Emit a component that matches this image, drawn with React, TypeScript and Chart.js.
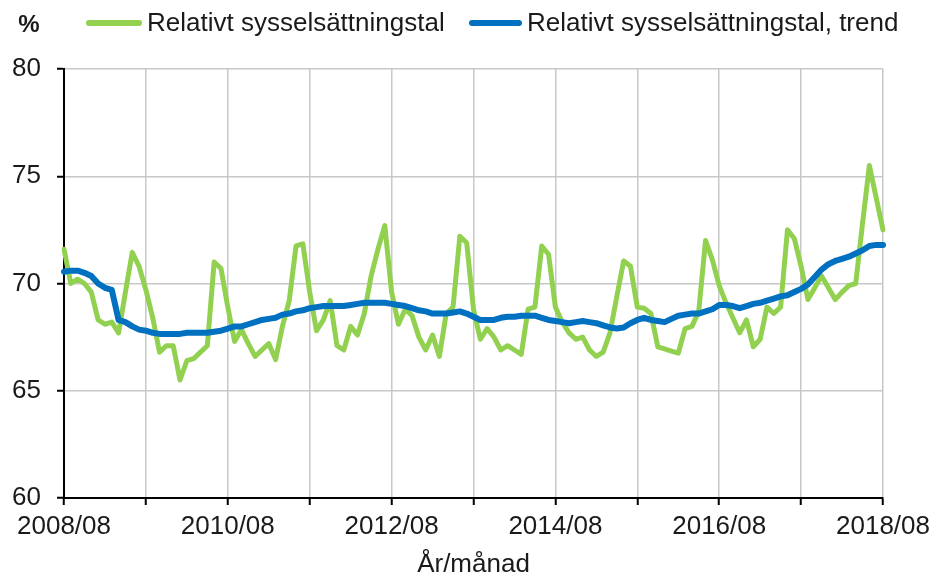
import React, { useEffect, useRef } from 'react';
import { Chart, registerables } from 'chart.js';

Chart.register(...registerables);

// ---------- data ----------
const START_YEAR = 2008;
const START_MONTH = 8;
const N_MONTHS = 121;

const months: string[] = Array.from({ length: N_MONTHS }, (_, i) => {
  const t = START_MONTH - 1 + i;
  return `${START_YEAR + Math.floor(t / 12)}/${String((t % 12) + 1).padStart(2, '0')}`;
});

const xTickLabels = ['2008/08', '2010/08', '2012/08', '2014/08', '2016/08', '2018/08'];
const xGridMonth = '/08';
const yTickValues = [60, 65, 70, 75, 80];

const seriesNames = ['Relativt sysselsättningstal', 'Relativt sysselsättningstal, trend'];

const employmentRate = [
  71.6, 70.0, 70.2, 70.0, 69.6, 68.3, 68.1, 68.2, 67.7, 69.6, 71.45, 70.8,
  69.7, 68.4, 66.8, 67.1, 67.1, 65.5, 66.4, 66.5, 66.8, 67.1, 71.0, 70.7,
  68.9, 67.3, 67.85, 67.2, 66.6, 66.9, 67.2, 66.45, 68.0, 69.2, 71.75, 71.85,
  69.6, 67.8, 68.3, 69.2, 67.1, 66.9, 68.0, 67.6, 68.6, 70.35, 71.6, 72.7,
  69.6, 68.1, 68.8, 68.5, 67.5, 66.9, 67.6, 66.6, 68.6, 68.9, 72.2, 71.9,
  68.8, 67.4, 67.9, 67.5, 66.9, 67.1, 66.9, 66.7, 68.8, 68.9, 71.75, 71.35,
  68.9, 68.2, 67.7, 67.4, 67.5, 66.9, 66.6, 66.8, 67.7, 69.4, 71.05, 70.8,
  68.9, 68.85, 68.6, 67.05, 66.95, 66.85, 66.75, 67.9, 68.0, 68.7, 72.0, 71.1,
  69.9, 69.1, 68.4, 67.7, 68.3, 67.05, 67.4, 68.9, 68.6, 68.9, 72.5, 72.1,
  70.8, 69.25, 69.8, 70.35, 69.8, 69.25, 69.6, 69.9, 70.0, 72.8, 75.5, 74.0,
  72.5,
];

const employmentTrend = [
  70.55, 70.6, 70.6, 70.5, 70.35, 70.0, 69.8, 69.7, 68.3, 68.2, 68.0, 67.85,
  67.8, 67.7, 67.65, 67.65, 67.65, 67.65, 67.7, 67.7, 67.7, 67.7, 67.75, 67.8,
  67.9, 68.0, 68.0, 68.1, 68.2, 68.3, 68.35, 68.4, 68.55, 68.6, 68.7, 68.75,
  68.85, 68.9, 68.95, 68.95, 68.95, 68.95, 69.0, 69.05, 69.1, 69.1, 69.1, 69.1,
  69.05, 69.0, 68.95, 68.85, 68.75, 68.7, 68.6, 68.6, 68.6, 68.65, 68.7, 68.6,
  68.45, 68.3, 68.3, 68.3, 68.4, 68.45, 68.45, 68.5, 68.5, 68.5, 68.4, 68.3,
  68.25, 68.2, 68.15, 68.2, 68.25, 68.2, 68.15, 68.05, 67.95, 67.9, 67.95, 68.15,
  68.3, 68.4, 68.3, 68.25, 68.2, 68.35, 68.5, 68.55, 68.6, 68.6, 68.7, 68.8,
  69.0, 69.0, 68.95, 68.85, 68.95, 69.05, 69.1, 69.2, 69.3, 69.4, 69.45, 69.6,
  69.75, 69.95, 70.3, 70.65, 70.9, 71.05, 71.15, 71.25, 71.4, 71.55, 71.75, 71.8,
  71.8,
];

// ---------- styles ----------
const GREEN = '#92D050';
const BLUE = '#0070C0';
const GRID = '#c8c8c8';
const TEXT = '#1a1a1a';
const FAMILY = '"Liberation Sans", Arial, Helvetica, sans-serif';

const headerPlugin = {
  id: 'headerLegend',
  afterDraw(chart: any) {
    const ctx = chart.ctx as CanvasRenderingContext2D;
    ctx.save();
    ctx.fillStyle = TEXT;
    ctx.font = `bold 24px ${FAMILY}`;
    ctx.textAlign = 'center';
    ctx.textBaseline = 'middle';
    ctx.fillText('%', 29, 25);

    const items = [
      { x: 86, w: 56, color: GREEN, text: seriesNames[0] },
      { x: 469, w: 53, color: BLUE, text: seriesNames[1] },
    ];
    ctx.font = `26px ${FAMILY}`;
    ctx.textAlign = 'left';
    items.forEach((it) => {
      ctx.strokeStyle = it.color;
      ctx.lineWidth = 6;
      ctx.lineCap = 'round';
      ctx.beginPath();
      ctx.moveTo(it.x + 3, 23);
      ctx.lineTo(it.x + it.w - 3, 23);
      ctx.stroke();
      ctx.fillStyle = TEXT;
      ctx.fillText(it.text, it.x + it.w + 5, 24);
    });
    ctx.restore();
  },
};

export default function App() {
  const canvasRef = useRef<HTMLCanvasElement | null>(null);

  useEffect(() => {
    if (!canvasRef.current) return;
    const isGrid = (i: number) => months[i] !== undefined && months[i].endsWith(xGridMonth);
    const chart = new Chart(canvasRef.current, {
      type: 'line',
      data: {
        labels: months,
        datasets: [
          {
            label: seriesNames[0],
            data: employmentRate,
            borderColor: GREEN,
            backgroundColor: GREEN,
            borderWidth: 5,
            order: 2,
          },
          {
            label: seriesNames[1],
            data: employmentTrend,
            borderColor: BLUE,
            backgroundColor: BLUE,
            borderWidth: 6,
            order: 1,
          },
        ],
      },
      options: {
        responsive: false,
        animation: false,
        layout: { padding: { top: 69, right: 53, bottom: 0, left: 0 } },
        plugins: { legend: { display: false }, tooltip: { enabled: false } },
        elements: {
          point: { radius: 0, hoverRadius: 0 },
          line: { tension: 0, borderJoinStyle: 'round', borderCapStyle: 'round' },
        },
        scales: {
          x: {
            type: 'category',
            offset: false,
            grid: {
              offset: false,
              color: (c: any) => (isGrid(c.index) ? GRID : 'rgba(0,0,0,0)'),
              tickColor: (c: any) => (isGrid(c.index) ? '#000' : 'rgba(0,0,0,0)'),
              lineWidth: 1.5,
              tickWidth: 2,
              tickLength: 7,
            },
            border: { display: true, color: '#000', width: 2 },
            ticks: {
              autoSkip: false,
              maxRotation: 0,
              minRotation: 0,
              padding: 6,
              color: TEXT,
              font: { size: 26, family: FAMILY },
              callback: (_v: any, i: number) => (xTickLabels.includes(months[i]) ? months[i] : ''),
            },
            title: {
              display: true,
              text: 'År/månad',
              color: TEXT,
              font: { size: 26, family: FAMILY },
              padding: { top: 0, bottom: 0 },
            },
            afterFit: (s: any) => {
              s.height = 82;
            },
          },
          y: {
            min: yTickValues[0],
            max: yTickValues[yTickValues.length - 1],
            grid: {
              color: GRID,
              tickColor: '#000',
              lineWidth: 1.5,
              tickWidth: 2,
              tickLength: 7,
            },
            border: { display: true, color: '#000', width: 2 },
            ticks: {
              stepSize: 5,
              padding: 16,
              color: TEXT,
              font: { size: 26, family: FAMILY },
              callback: (v: any) => (yTickValues.includes(Number(v)) ? String(v) : ''),
            },
            afterFit: (s: any) => {
              s.width = 64;
            },
          },
        },
      } as any,
      plugins: [headerPlugin],
    });
    return () => chart.destroy();
  }, []);

  return (
    <div style={{ position: 'absolute', left: 0, top: 0, width: 936, height: 580, background: '#fff' }}>
      <canvas ref={canvasRef} width={936} height={580} style={{ display: 'block' }} />
    </div>
  );
}
